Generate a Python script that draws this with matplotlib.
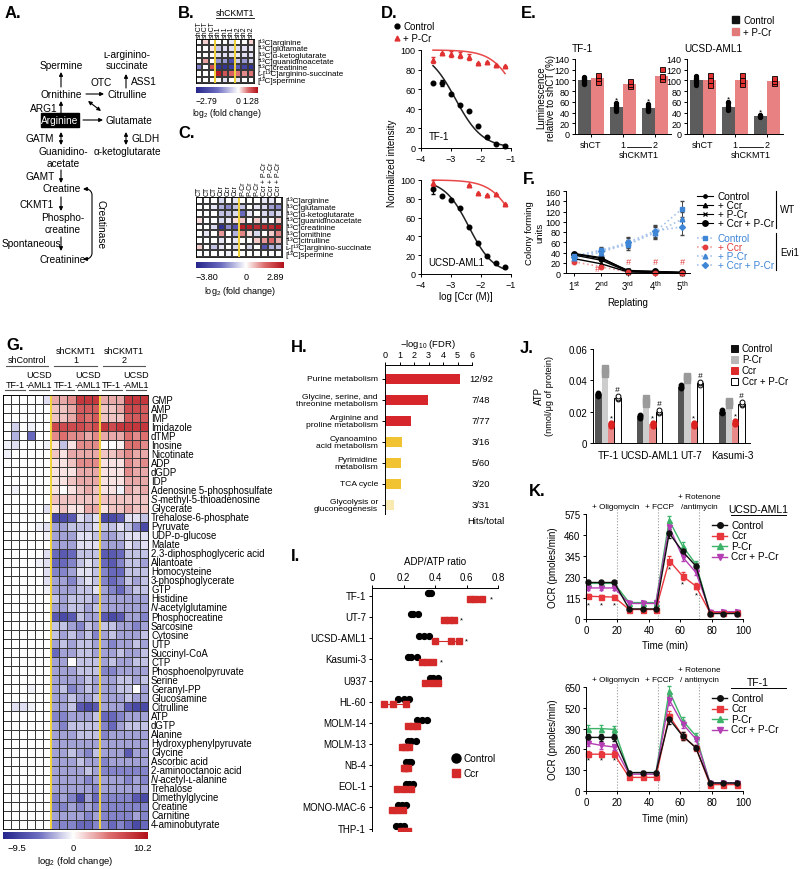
import numpy as np
import matplotlib
matplotlib.use("Agg")
import matplotlib.pyplot as plt
from matplotlib.colors import LinearSegmentedColormap, TwoSlopeNorm

plt.rcParams['font.family'] = ['Liberation Sans', 'DejaVu Sans']
plt.rcParams['mathtext.fontset'] = 'custom'
plt.rcParams['mathtext.rm'] = 'Liberation Sans'
plt.rcParams['mathtext.it'] = 'Liberation Sans:italic'
plt.rcParams['mathtext.bf'] = 'Liberation Sans:bold'
for k, v in {'axes.linewidth': 0.7, 'xtick.major.width': 0.7, 'ytick.major.width': 0.7,
             'xtick.major.size': 2.5, 'ytick.major.size': 2.5, 'xtick.labelsize': 6.5,
             'ytick.labelsize': 6.5, 'xtick.major.pad': 1.5, 'ytick.major.pad': 1.5}.items():
    plt.rcParams[k] = v

# ======================= DATA =======================
# --- B ---
b_cols = ['shCT', 'shCT', 'shCT', 'sh1', 'sh1', 'sh1', 'sh2', 'sh2', 'sh2']
b_rows = ['[¹³C]arginine', '[¹³C]glutamate', '[¹³C]α-ketoglutarate', '[¹³C]guanidinoacetate',
          '[¹³C]creatinine', 'ʟ-[¹³C]arginino-succinate', '[¹³C]spermine']
b_values = [
    [0, 0.2, 0, 0, 0, -0.2, 0, 0, 0.2],
    [0, 0, 0.1, -0.5, -0.3, -0.3, -0.3, -0.3, -0.2],
    [0, 0, 0, -0.3, -0.3, -0.3, -0.2, -0.3, -0.3],
    [0, 0.4, 0, -1.0, -1.0, -2.0, -0.5, -1.0, -0.5],
    [-1.2, 0, 0.8, -2.5, -2.5, -2.3, -1.8, -2.2, -2.5],
    [0, 0, 0, 1.2, 0.8, 0.7, 0.6, 0.5, 0.6],
    [0, 0, 0, 0, -0.3, 0, -0.2, 0, 0],
]
b_range = (-2.79, 1.28)

# --- C ---
c_cols = ['CT', 'CT', 'CT', 'Ccr', 'Ccr', 'Ccr', 'P-Cr', 'P-Cr', 'P-Cr',
          'Ccr + P-Cr', 'Ccr + P-Cr', 'Ccr + P-Cr']
c_rows = ['[¹³C]arginine', '[¹³C]glutamate', '[¹³C]α-ketoglutarate', '[¹³C]guanidinoacetate',
          '[¹³C]creatinine', '[¹³C]ornithine', '[¹³C]citrulline', 'ʟ-[¹³C]arginino-succinate',
          '[¹³C]spermine']
c_values = [
    [0, 0, 0, -0.5, 0, -0.3, 0, 0, 0, -0.3, -0.3, 0],
    [0, 0, -0.3, -1.0, -1.5, -0.8, -0.8, 0, -0.3, -0.5, -1.2, -1.5],
    [0, 0, 0, -0.8, -0.8, -0.5, -2.0, -0.3, 0, -0.5, -0.8, -0.5],
    [0.3, 0, 0, -0.5, -0.3, 0.3, 0.5, 0, 0.5, -0.3, 0, 0.5],
    [0, 0, -0.5, -3.5, -1.5, -2.5, 2.7, 2.7, 2.5, 2.5, 2.5, 2.8],
    [0, -0.3, 0, 1.0, 0, -1.0, 1.2, 0.3, -0.5, 0, 0.5, 1.2],
    [0, 0, 0, -0.3, 0, -0.3, 0, 0, 0.5, 1.0, 1.5, 0.8],
    [0.5, 0, -0.8, -0.3, 0, -0.5, 0, -0.5, 0, -2.5, -1.0, -0.8],
    [0, 0, 0, 0, -0.2, 0, 0, 0, 0, 0, 0, 0],
]
c_range = (-3.80, 2.89)

# --- D ---
d_conc = [-3.6, -3.3, -3.0, -2.7, -2.4, -2.1, -1.8, -1.5, -1.2]
d_tf1_ctrl = [66, 66, 55, 44, 38, 22, 11, 4, 2]
d_tf1_ctrl_err = [0, 3, 0, 0, 0, 0, 0, 0, 0]
d_tf1_pcr = [90, 97, 96, 95, 93, 87, 88, 85, 84]
d_tf1_pcr_err = [3, 0, 3, 3, 3, 0, 0, 0, 0]
d_aml_ctrl = [90, 83, 79, 70, 50, 33, 19, 12, 7]
d_aml_ctrl_err = [5, 0, 0, 0, 0, 0, 0, 0, 0]
d_aml_pcr_conc = [-3.6, -2.4, -2.1, -1.8, -1.5, -1.2]
d_aml_pcr = [97, 95, 86, 84, 85, 75]
d_aml_pcr_err = [3, 0, 0, 0, 0, 0]
# fitted dose-response parameters (top, logIC50, Hill slope)
d_fit_tf1_ctrl = (100, -2.85, 0.96)
d_fit_tf1_pcr = (100, -0.70, 1.0)
d_fit_aml_ctrl = (100, -2.40, 1.06)
d_fit_aml_pcr = (100, -0.75, 1.0)

# --- E ---
e_groups = ['shCT', '1', '2']
e_tf1_ctrl = [100, 50, 48]
e_tf1_pcr = [104, 94, 108]
e_aml_ctrl = [100, 50, 33]
e_aml_pcr = [100, 101, 99]
e_tf1_ctrl_pts = [[93, 96, 98, 100, 101, 103, 105, 107], [43, 46, 48, 50, 52, 54, 57], [43, 45, 47, 49, 51, 53, 56]]
e_tf1_pcr_pts = [[97, 104, 111], [89, 94, 99], [102, 108, 122]]
e_aml_ctrl_pts = [[92, 95, 98, 100, 102, 105, 108], [44, 47, 50, 53, 57, 60], [31, 33, 34, 36]]
e_aml_pcr_pts = [[92, 100, 110], [93, 101, 110], [95, 99, 104]]
e_tf1_star = [None, 63, 62]
e_aml_star = [None, 66, 41]

# --- F ---
f_replating = [1, 2, 3, 4, 5]
f_labels = ['1$^{\\mathrm{st}}$', '2$^{\\mathrm{nd}}$', '3$^{\\mathrm{rd}}$', '4$^{\\mathrm{th}}$', '5$^{\\mathrm{th}}$']
f_wt_ctrl = [35, 25, 3, 2, 1]
f_wt_ccr = [28, 18, 2, 1, 0]
f_wt_pcr = [37, 28, 5, 3, 1]
f_wt_ccr_pcr = [38, 30, 4, 3, 1]
f_evi_ctrl = [33, 45, 55, 80, 125]
f_evi_ccr = [22, 12, 2, 0, 0]
f_evi_pcr = [30, 40, 58, 78, 105]
f_evi_ccr_pcr = [32, 43, 60, 82, 90]
f_evi_err = [3, 5, 10, 12, 15]
f_hash_pos = [(1.85, 8), (3, 22), (4, 22), (5, 22)]

# --- G ---
g_rows = ['GMP', 'AMP', 'IMP', 'Imidazole', 'dTMP', 'Inosine', 'Nicotinate', 'ADP', 'dGDP', 'IDP',
          'Adenosine 5-phosphosulfate', 'S-methyl-5-thioadenosine', 'Glycerate',
          'Trehalose-6-phosphate', 'Pyruvate', 'UDP-ᴅ-glucose', 'Malate',
          '2,3-diphosphoglyceric acid', 'Allantoate', 'Homocysteine', '3-phosphoglycerate', 'GTP',
          'Histidine', 'N-acetylglutamine', 'Phosphocreatine', 'Sarcosine', 'Cytosine', 'UTP',
          'Succinyl-CoA', 'CTP', 'Phosphoenolpyruvate', 'Serine', 'Geranyl-PP', 'Glucosamine',
          'Citrulline', 'ATP', 'dGTP', 'Alanine', 'Hydroxyphenylpyruvate', 'Glycine',
          'Ascorbic acid', '2-aminooctanoic acid', 'N-acetyl-ʟ-alanine', 'Trehalose',
          'Dimethylglycine', 'Creatine', 'Carnitine', '4-aminobutyrate']
g_italic_first = ['S-methyl-5-thioadenosine', 'N-acetylglutamine', 'N-acetyl-ʟ-alanine']
g_values = [
    [0, 0, 0, 0, 0, -1, 3, 3, 4, 8, 8, 8, 3, 3, 3, 8, 8, 8],
    [0, 0, 0, 0, 0, 0, 2, 2, 3, 6, 6, 6, 2, 2, 3, 7, 7, 6],
    [0, 0, 0, 0, 0, 0, 2, 2, 3, 6, 5, 6, 2, 2, 2, 6, 6, 6],
    [0, -1.5, 0, -0.5, 0, 0, 7, 7, 7, 7, 6, 7, 8, 7, 8, 8, 8, 8],
    [0, -2.5, 0, -5, 0, 0, 4, 5, 4, 4, 3, 4, 3, 3, 3, 5, 4, 5],
    [-0.5, -1, 0, 0, 0, -0.5, 1, -2, 1, 4, 4, 4, 0, 0, 0.5, 5, 5, 4],
    [-0.5, 0, 0, 0, 0, 0, 2, 1, 3, 3, 3, 3, 2, 2, 3, 4, 3, 3],
    [0, 0, 0, 0, 0, 0, 1, 1, 2, 4, 4, 4, 1, 1, 1, 4, 3, 4],
    [0, 0, 0, 0, 0, 0, 1, 1, 1, 3, 3, 3, 1, 1, 1, 4, 3, 3],
    [0, 0, 0, 0, 0, 0, 1, 1, 2, 3, 3, 3, 1, 1, 1, 3, 3, 3],
    [0, -0.5, 0, 0, 0, 0, 1, 0, 1, 2, 3, 2, 1, 1, -0.5, 3, 2, 3],
    [0, 0, 0, 0, 0, 0, 2, 2, 2, 2, 2, 2, 2, 2, 2, 2, 2, 2],
    [0, 0, 0, 0, 0, -1, 1, 2, 1, 1, 3, 3, 1, 2, 2, 3, 2, 2],
    [0, 0, 0, 0, 0, 0, -7, -7, -6, -1, -2, -1, -7, -7, -6, -1, -1, -2],
    [0, 0, 0, 0, -0.5, -1, -3, -3, -2, -2, -2, -1, -2, -2, -1, -2, -4, -7],
    [0, 0, 0, 0, 0, -0.5, -3, -3, -3, -1, -1, -2, -3, -3, -2, -1, -1, -1],
    [0, 0, 0, 0, 0, 0, -3, -3, -3, -1, -1, -1, -3, -3, -3, -1, -2, -1],
    [0, 0, 0, 0, 0, -1, -5, -6, -5, -2, -2, -2, -6, -6, -5, -2, -2, -2],
    [0, 0, 0, 0, -0.5, -1, -5, -5, -4, -2, -1, -2, -5, -6, -4, -2, -2, -3],
    [0, 0, 0, 0, 0, -1, -4, -4, -3, -1, -1, -2, -4, -5, -5, -2, -2, -2],
    [0, 0, 0, 0, 0, -1, -3, -3, -4, -2, -1, -2, -4, -5, -4, -2, -3, -2],
    [0, 0, 0, 0, 0, -0.5, -3, -3, -3, -2, -2, -1, -3, -4, -5, -3, -2, -2],
    [0, 0, 0, 0, 0, 0, -2, -3, -2, -2, -2, -3, -3, -3, -3, -3, -3, -3],
    [0, 0, 0, 0, 0, 0, -3, -3, -2, -2, -3, -2, -3, -3, -3, -3, -3, -3],
    [0, 0, 0, 0, 0, 0, -6, -7, -6, -2, -3, -3, -6, -7, -6, -3, -3, -4],
    [0, 0, 0, 0, 0, 0, -2, -2, -3, -4, -2, -3, -2, -2, -3, -3, -4, -3],
    [0, 0, 0, 0, 0, 0, -2, -3, -2, -3, -2, -4, -3, -2, -3, -3, -3, -2],
    [0, 0, 0, 0, 0, 0, -3, -2, -3, -2, -2, -3, -3, -4, -3, -3, -2, -3],
    [0, 0, 0, 0, 0, 0, -5, -3, -3, -2, -2, -3, -3, -3, -2, -3, -3, -2],
    [0, 0, 0, 0, 0, 0, -3, -3, 0, -2, -2, -2, -3, -2, -3, -3, -2, -2],
    [0, 0, 0, 0, 0, 0, -3, -3, -3, -2, -2, -2, -4, -4, -3, -3, -3, -3],
    [0, 0, 0, 0, 0, 0, -3, -3, -3, -3, -2, -3, -3, -3, -2, -2, -3, -2],
    [0, 0, 0, -0.5, 0, 0, -3, -2, -4, -3, -2, -3, -3, -3, -2, -2, 0, -3],
    [0, 0, 0, 0, 0, 0, -3, -3, -2, -3, -3, -2, -3, -3, -3, -2, -3, -3],
    [0, -1, -1, -0.5, 0, 0, -3, -3, -2, -6, -7, -6, -3, -3, -3, -6, -7, -7],
    [0, 0, 0, 0, 0, 0, -4, -4, -3, -3, -3, -2, -5, -5, -4, -3, -3, -3],
    [0, 0, 0, 0, 0, 0, -3, -4, -2, -2, -2, -2, -4, -5, -3, -2, -2, -2],
    [0, 0, 0, 0, 0, 0, -3, -3, -3, -2, -2, -2, -4, -3, -3, -3, -3, -3],
    [0, 0, 0, 0, 0, 0, -3, -3, -3, -3, -3, -3, -3, -3, -3, -3, -3, -3],
    [0, 0, 0, 0, 0, 0, -3, -3, -2, -3, -4, -2, -3, -3, -3, -6, -3, -3],
    [0, 0, 0, 0, 0, 0, -3, -3, -3, -2, -3, -3, -4, -3, -3, -3, -3, -3],
    [0, 0, 0, 0, 0, 0, -3, -3, -3, -3, -2, -3, -4, -4, -4, -4, -4, -4],
    [0, 0, 0, 0, 0, 0, -3, -3, -3, -3, -4, -3, -3, -3, -3, -4, -3, -4],
    [0, 0, 0, 0, 0, 0, -3, -3, -3, -3, -3, -4, -3, -3, -3, -3, -3, -3],
    [0, 0, 0, 0, 0, 0, -4, -3, -4, -7, -3, -5, -4, -4, -4, -4, -6, -7],
    [0, 0, 0, 0, 0, 0, -4, -4, -3, -4, -3, -4, -4, -4, -4, -4, -4, -4],
    [0, 0, 0, 0, 0, 0, -3, -3, -3, -3, -4, -3, -4, -4, -4, -4, -3, -4],
    [0, 0, 0, 0, 0, 0, -4, -4, -4, -5, -5, -4, -4, -5, -4, -5, -7, -5],
]
g_range = (-9.5, 10.2)
g_groups = ['shControl', 'shCKMT1\n1', 'shCKMT1\n2']

# --- H ---
h_paths = ['Purine metabolism', 'Glycine, serine, and\nthreonine metabolism',
           'Arginine and\nproline metabolism', 'Cyanoamino\nacid metabolism',
           'Pyrimidine\nmetabolism', 'TCA cycle', 'Glycolysis or\ngluconeogenesis']
h_fdr = [5.2, 2.95, 1.8, 1.2, 1.1, 1.1, 0.6]
h_hits = ['12/92', '7/48', '7/77', '3/16', '5/60', '3/20', '3/31']
h_colors = ['#d7262b', '#d7262b', '#d7262b', '#f1c232', '#f1c232', '#f1c232', '#f8eab0']

# --- I ---
i_lines = ['TF-1', 'UT-7', 'UCSD-AML1', 'Kasumi-3', 'U937', 'HL-60', 'MOLM-14', 'MOLM-13',
           'NB-4', 'EOL-1', 'MONO-MAC-6', 'THP-1']
i_ctrl = [[0.355, 0.365, 0.372], [0.245, 0.262, 0.29], [0.30, 0.33, 0.36], [0.23, 0.25, 0.285],
          [0.37, 0.39, 0.42], [0.165, 0.20, 0.235], [0.285, 0.32, 0.35], [0.226, 0.25, 0.28],
          [0.215, 0.232, 0.245], [0.215, 0.235, 0.26], [0.165, 0.19, 0.215], [0.152, 0.175, 0.20]]
i_ccr = [[0.62, 0.655, 0.70], [0.455, 0.49, 0.52], [0.40, 0.50, 0.555], [0.32, 0.35, 0.39],
         [0.335, 0.38, 0.42], [0.078, 0.133, 0.216], [0.23, 0.26, 0.285], [0.19, 0.21, 0.237],
         [0.20, 0.21, 0.226], [0.16, 0.20, 0.245], [0.13, 0.16, 0.197], [0.184, 0.20, 0.23]]
i_star = [0.76, 0.57, 0.60, 0.44, None, None, None, None, None, None, None, None]

# --- J ---
j_lines = ['TF-1', 'UCSD-AML1', 'UT-7', 'Kasumi-3']
j_ctrl = [0.031, 0.017, 0.036, 0.020]
j_pcr = [0.049, 0.030, 0.044, 0.028]
j_ccr = [0.012, 0.012, 0.012, 0.013]
j_ccr_pcr = [0.029, 0.020, 0.038, 0.025]
j_ctrl_pts = [[0.030, 0.031, 0.032], [0.016, 0.017, 0.018], [0.035, 0.036, 0.037], [0.019, 0.020, 0.021]]
j_pcr_pts = [[0.044, 0.046, 0.048], [0.025, 0.027, 0.029], [0.040, 0.042, 0.043], [0.024, 0.026, 0.027]]
j_ccr_pts = [[0.011, 0.012, 0.013], [0.011, 0.012, 0.013], [0.011, 0.012, 0.013], [0.012, 0.013, 0.014]]
j_ccr_pcr_pts = [[0.028, 0.029, 0.030], [0.019, 0.020, 0.021], [0.037, 0.038, 0.039], [0.024, 0.025, 0.026]]

# --- K ---
k_time = [1.5, 9.7, 18, 27.5, 36, 44.5, 53, 61.5, 70, 79, 87.5, 96]
k_series = ['Control', 'Ccr', 'P-Cr', 'Ccr + P-Cr']
k_aml = {'Control': [200, 200, 200, 55, 55, 55, 470, 370, 290, 30, 30, 30],
         'Ccr': [125, 122, 120, 52, 52, 52, 320, 235, 180, 35, 35, 35],
         'P-Cr': [195, 195, 195, 90, 90, 90, 540, 400, 300, 35, 40, 40],
         'Ccr + P-Cr': [170, 170, 170, 85, 85, 85, 505, 340, 255, 40, 40, 40]}
k_aml_err = [10, 10, 10, 6, 6, 6, 25, 20, 15, 6, 6, 6]
k_tf1 = {'Control': [335, 335, 335, 115, 115, 115, 450, 345, 270, 50, 50, 50],
         'Ccr': [230, 230, 230, 85, 85, 85, 470, 345, 270, 40, 40, 40],
         'P-Cr': [390, 390, 385, 115, 115, 115, 625, 440, 345, 50, 50, 50],
         'Ccr + P-Cr': [300, 285, 275, 105, 105, 105, 570, 420, 325, 50, 50, 50]}
k_tf1_err = [20, 20, 20, 8, 8, 8, 30, 25, 15, 6, 6, 6]
k_injections = [20, 46, 72]

# ======================= FIGURE =======================
W, H = 800, 870
fig = plt.figure(figsize=(8, 8.7), dpi=100)
fig.patch.set_facecolor('white')

CMAP = LinearSegmentedColormap.from_list('bwr_ref', [(0, '#26268c'), (0.25, '#6c6cc0'), (0.5, '#ffffff'),
                                                     (0.75, '#dc6c6c'), (1, '#b3121b')])


def ax_px(l, t, r, b):
    return fig.add_axes([l / W, 1 - b / H, (r - l) / W, (b - t) / H])


ov = fig.add_axes([0, 0, 1, 1], zorder=20)
ov.set_xlim(0, W)
ov.set_ylim(H, 0)
ov.axis('off')


def T(x, y, s, size=7, ha='center', va='center', **kw):
    ov.text(x, y, s, fontsize=size, ha=ha, va=va, **kw)


def arrow(x0, y0, x1, y1, style='-|>'):
    ov.annotate('', xy=(x1, y1), xytext=(x0, y0),
                arrowprops=dict(arrowstyle=style, color='k', lw=0.8, mutation_scale=5.5,
                                shrinkA=0, shrinkB=0))


def L(xs, ys, **kw):
    kw.setdefault('color', 'k')
    kw.setdefault('lw', 0.8)
    ov.plot(xs, ys, **kw)


def letter(x, y, s):
    T(x, y, s, size=12, ha='left', weight='bold')


def clean(ax):
    ax.spines['top'].set_visible(False)
    ax.spines['right'].set_visible(False)


def heat(ax, vals, norm, vlines, lw=0.35):
    v = np.array(vals, dtype=float)
    nr, nc = v.shape
    ax.pcolormesh(np.arange(nc + 1), np.arange(nr + 1), v, cmap=CMAP, norm=norm,
                  edgecolors='#3a3a3a', linewidth=lw)
    ax.set_xlim(0, nc)
    ax.set_ylim(nr, 0)
    for x in vlines:
        ax.axvline(x, color='#f3d53a', lw=1.4)
    ax.set_xticks([])
    ax.set_yticks([])
    for s in ax.spines.values():
        s.set_linewidth(0.6)


def cbar(l, t, r, b, rng, norm, labels_y, lab_y, size=6.5, inset=(0, 0)):
    ax = ax_px(l, t, r, b)
    g = np.linspace(rng[0], rng[1], 256)[None, :]
    ax.imshow(g, aspect='auto', cmap=CMAP, norm=norm, extent=[rng[0], rng[1], 0, 1])
    ax.axis('off')
    fmt = lambda v: ('%.2f' % v if abs(v) < 5 else '%.1f' % v).replace('-', '−')
    T(l + inset[0], labels_y, fmt(rng[0]), size=size, ha='left')
    x0 = l + (0 - rng[0]) / (rng[1] - rng[0]) * (r - l)
    T(x0, labels_y, '0', size=size)
    T(r + inset[1], labels_y, fmt(rng[1]), size=size, ha='right')
    T((l + r) / 2, lab_y, 'log$_2$ (fold change)', size=size)


# ---------------- A ----------------
letter(5, 14, 'A.')
fa = 7.3
T(61, 66, 'Spermine', fa)
T(127, 55, 'ʟ-arginino-', fa)
T(127, 66, 'succinate', fa)
arrow(61, 88, 61, 73)
T(101, 83, 'OTC', fa)
arrow(126, 89, 126, 75)
T(131, 82, 'ASS1', fa, ha='left')
T(61, 95, 'Ornithine', fa)
arrow(86, 95, 104, 95)
T(107, 95, 'Citrulline', fa, ha='left')
T(44, 109, 'ARG1', fa)
arrow(61, 115, 61, 102)
arrow(88, 102, 101, 112, style='<|-|>')
ov.add_patch(plt.Rectangle((41, 114), 38, 14, color='k'))
T(60, 121, 'Arginine', fa, color='white')
arrow(83, 121, 103, 121)
T(106, 121, 'Glutamate', fa, ha='left')
T(40, 139, 'GATM', fa)
arrow(61, 133, 61, 146, style='<|-|>')
arrow(126, 133, 126, 146, style='<|-|>')
T(131, 139, 'GLDH', fa, ha='left')
T(63, 152, 'Guanidino-', fa)
T(63, 164, 'acetate', fa)
T(127, 152, 'α-ketoglutarate', fa)
T(40, 177, 'GAMT', fa)
arrow(61, 171, 61, 184)
T(62, 189, 'Creatine', fa)
T(37, 205, 'CKMT1', fa)
arrow(61, 198, 61, 212)
T(63, 218, 'Phospho-', fa)
T(63, 230, 'creatine', fa)
T(2, 244, 'Spontaneous', fa, ha='left')
arrow(61, 238, 61, 252)
T(63, 260, 'Creatinine', fa)
t = np.linspace(0, np.pi / 2, 20)
bx = np.concatenate([86 + 6 * np.sin(t), 86 + 6 * np.cos(t)])
by = np.concatenate([190 - 6 * np.cos(t) + 6, 254 + 6 * np.sin(t)])
L(bx, by)
arrow(88, 190, 83, 190)
arrow(88, 260, 83, 260)
T(101, 225, 'Creatinase', fa, rotation=-90)

# ---------------- B ----------------
letter(178, 14, 'B.')
bnorm = TwoSlopeNorm(vmin=b_range[0], vcenter=0, vmax=b_range[1])
bl, bt, br, bb = 196, 40, 254, 84
axB = ax_px(bl, bt, br, bb)
heat(axB, b_values, bnorm, [3, 6])
cw = (br - bl) / len(b_cols)
for j, lab in enumerate(b_cols):
    T(bl + (j + 0.5) * cw, bt - 1.5, lab, 5, va='bottom', rotation=90)
T((bl + 3 * cw + br) / 2, 14, 'shCKMT1', 6.2)
L([bl + 3 * cw + 1, br], [19, 19], lw=0.6)
rh = (bb - bt) / len(b_rows)
for i, lab in enumerate(b_rows):
    T(br + 3, bt + (i + 0.5) * rh, lab, 5.8, ha='left')
cbar(bl, 88, 258, 94, b_range, bnorm, 102, 114, size=6.2, inset=(0, 1))

# ---------------- C ----------------
letter(178, 134, 'C.')
cnorm = TwoSlopeNorm(vmin=c_range[0], vcenter=0, vmax=c_range[1])
cl, ct, cr, cb = 196, 198, 282, 258
axC = ax_px(cl, ct, cr, cb)
heat(axC, c_values, cnorm, [6])
cw = (cr - cl) / len(c_cols)
for j, lab in enumerate(c_cols):
    T(cl + (j + 0.5) * cw, ct - 1.5, lab, 5, va='bottom', rotation=90)
rh = (cb - ct) / len(c_rows)
for i, lab in enumerate(c_rows):
    T(cr + 3, ct + (i + 0.5) * rh, lab, 5.8, ha='left')
cbar(cl, 263, 284, 269, c_range, cnorm, 278, 292)


# ---------------- D ----------------
def hill(x, top, ic50, h):
    return top / (1 + 10 ** ((np.asarray(x) - ic50) * h))


letter(381, 14, 'D.')
ov.plot([397], [27], 'o', color='k', ms=3.5)
T(403, 27, 'Control', 7, ha='left')
ov.plot([397], [39], '^', color='#e03030', ms=3.5)
T(403, 39, '+ P-Cr', 7, ha='left')
d_panels = [((421, 51, 511, 149), d_conc, d_tf1_ctrl, d_tf1_ctrl_err, d_conc, d_tf1_pcr,
             d_tf1_pcr_err, d_fit_tf1_ctrl, d_fit_tf1_pcr, 'TF-1'),
            ((421, 181, 511, 275), d_conc, d_aml_ctrl, d_aml_ctrl_err, d_aml_pcr_conc, d_aml_pcr,
             d_aml_pcr_err, d_fit_aml_ctrl, d_fit_aml_pcr, 'UCSD-AML1')]
for box, cx, cy, ce, px, py, pe, fc, fp, name in d_panels:
    ax = ax_px(*box)
    xs = np.linspace(-3.6, -1.2, 120)
    ax.plot(xs, hill(xs, *fc), color='#222222', lw=1.1)
    ax.plot(xs, hill(xs, *fp), color='#e84848', lw=1.1, clip_on=False)
    ax.errorbar(cx, cy, yerr=ce, fmt='o', ms=3.3, color='k', capsize=1.5, elinewidth=0.8, clip_on=False)
    ax.errorbar(px, py, yerr=pe, fmt='^', ms=3.3, color='#e03030', capsize=1.5, elinewidth=0.8,
                clip_on=False)
    ax.set_xlim(-4, -1)
    ax.set_ylim(0, 100)
    ax.set_xticks([-4, -3, -2, -1])
    ax.set_yticks(range(0, 101, 20))
    clean(ax)
    ax.text(-3.75, 7, name, fontsize=7, ha='left', va='bottom')
T(392, 163, 'Normalized intensity', 7, rotation=90)
T(466, 297, 'log [Ccr (M)]', 7)

# ---------------- E ----------------
letter(521, 14, 'E.')
ov.add_patch(plt.Rectangle((732, 17), 7, 7, color='#111111'))
T(743, 21, 'Control', 7, ha='left')
ov.add_patch(plt.Rectangle((732, 29), 7, 7, color='#e27a7a'))
T(743, 33, '+ P-Cr', 7, ha='left')
e_panels = [((575, 60, 671, 135), e_tf1_ctrl, e_tf1_pcr, e_tf1_ctrl_pts, e_tf1_pcr_pts, e_tf1_star, 'TF-1', 572),
            ((687, 60, 783, 135), e_aml_ctrl, e_aml_pcr, e_aml_ctrl_pts, e_aml_pcr_pts, e_aml_star, 'UCSD-AML1', 684)]
for box, ctrl, pcr, cpts, ppts, stars, name, tx in e_panels:
    ax = ax_px(*box)
    x = np.arange(3)
    ax.bar(x - 0.21, ctrl, 0.4, color='#5c5c5c')
    ax.bar(x + 0.21, pcr, 0.4, color='#e88282')
    for i in range(3):
        ax.plot(np.full(len(cpts[i]), i - 0.21), cpts[i], 'o', color='k', ms=2.8)
        ax.plot(np.full(len(ppts[i]), i + 0.21), ppts[i], 's', mfc='#e03030', mec='k', mew=0.6, ms=3.6)
        if stars[i] is not None:
            ax.text(i - 0.21, stars[i], '*', fontsize=6, ha='center', va='center')
    ax.set_ylim(0, 140)
    ax.set_yticks(range(0, 141, 20))
    ax.set_xlim(-0.5, 2.5)
    ax.set_xticks(x)
    ax.set_xticklabels([])
    clean(ax)
    T(tx, 49, name, 7.2, ha='left')
    l = box[0]
    gx = [l + (i + 0.5) * 32 for i in range(3)]
    T(gx[0], 146, e_groups[0], 6.5)
    T(gx[1], 145, e_groups[1], 6.5)
    T(gx[2], 145, e_groups[2], 6.5)
    L([gx[1] + 4, gx[2] - 4], [148, 148], lw=0.6)
    T((gx[1] + gx[2]) / 2, 155, 'shCKMT1', 6.5)
T(541, 98, 'Luminescence', 7, rotation=90)
T(551, 98, 'relative to shCT (%)', 7, rotation=90)

# ---------------- F ----------------
letter(523, 179, 'F.')
axF = ax_px(566, 192, 690, 274)
BLUE = '#3f86d6'
LBLUE = '#a9c4ea'
RED = '#e23c3c'
wt_specs = [(f_wt_ctrl, 'o', 2.5), (f_wt_ccr, '^', 3.2), (f_wt_pcr, 'x', 3.2), (f_wt_ccr_pcr, 'o', 4)]
evi_specs = [(f_evi_ctrl, 's', 3, BLUE), (f_evi_ccr, 'o', 3.2, RED), (f_evi_pcr, '^', 3.4, BLUE),
             (f_evi_ccr_pcr, 'D', 3, BLUE)]
for ys, m, s, c in evi_specs:
    lc = '#f0a0a0' if c == RED else LBLUE
    axF.plot(f_replating, ys, ':', color=lc, lw=1.2)
    axF.errorbar(f_replating, ys, yerr=f_evi_err if c != RED else None, fmt=m, ms=s, color=c,
                 ecolor='#444444', elinewidth=0.7, capsize=1.5, clip_on=False)
for ys, m, s in wt_specs:
    axF.plot(f_replating, ys, '-', marker=m, color='k', lw=1.0, ms=s, mew=0.9, clip_on=False)
for xh, yh in f_hash_pos:
    axF.text(xh, yh, '#', color=RED, fontsize=6.5, ha='center', va='center', style='italic')
axF.set_xlim(0.7, 5.3)
axF.set_ylim(0, 160)
axF.set_yticks(range(0, 161, 20))
axF.set_xticks(f_replating)
axF.set_xticklabels(f_labels, fontsize=7)
clean(axF)
T(628, 303, 'Replating', 7)
T(530, 233, 'Colony forming', 6.8, rotation=90)
T(540, 233, 'units', 6.8, rotation=90)
leg_names = ['Control', '+ Ccr', '+ P-Cr', '+ Ccr + P-Cr']
for k, ((ys, m, s), yy) in enumerate(zip(wt_specs, [197, 206, 215, 224])):
    L([697, 713], [yy, yy])
    ov.plot([705], [yy], marker=m, color='k', ms=s, mew=0.9)
    T(718, yy, leg_names[k], 7.2, ha='left')
for k, ((ys, m, s, c), yy) in enumerate(zip(evi_specs, [239, 248, 257, 266])):
    L([697, 713], [yy, yy], ls=':', color=('#f0a0a0' if c == RED else LBLUE), lw=1.2)
    ov.plot([705], [yy], marker=m, color=c, ms=s)
    T(718, yy, leg_names[k], 7.2, ha='left', color=c)
L([776, 776], [192, 229], lw=0.8)
T(780, 210, 'WT', 7, ha='left')
L([776, 776], [234, 271], lw=0.8)
T(780, 253, 'Evi1', 7, ha='left')

# ---------------- G ----------------
letter(6, 346, 'G.')
gnorm = TwoSlopeNorm(vmin=g_range[0], vcenter=0, vmax=g_range[1])
gl, gt, gr, gb = 3, 396, 148, 830
axG = ax_px(gl, gt, gr, gb)
heat(axG, g_values, gnorm, [6, 12], lw=0.4)
gcw = (gr - gl) / 18
for gi, name in enumerate(g_groups):
    x0 = gl + gi * 6 * gcw
    xc = x0 + 3 * gcw
    if '\n' in name:
        a, b = name.split('\n')
        T(xc, 352, a, 6.5)
        T(xc, 361, b, 6.5)
    else:
        T(xc, 361, name, 6.5)
    L([x0 + 3, x0 + 6 * gcw - 3], [367, 367], lw=0.8, color='#555555')
    T(x0 + 4.5 * gcw, 376, 'UCSD', 6.5)
    T(x0 + 1.5 * gcw, 386, 'TF-1', 6.5)
    T(x0 + 4.5 * gcw, 386, '-AML1', 6.5)
    L([x0 + 2, x0 + 3 * gcw - 2], [391, 391], lw=0.8, color='#555555')
    L([x0 + 3 * gcw + 2, x0 + 6 * gcw - 2], [391, 391], lw=0.8, color='#555555')
grh = (gb - gt) / len(g_rows)
for i, lab in enumerate(g_rows):
    yy = gt + (i + 0.5) * grh
    if lab in g_italic_first:
        T(gr + 3, yy, lab[0], 6.9, ha='left', style='italic')
        T(gr + 3 + (6.4 if lab[0] == 'S' else 6.8), yy, lab[1:], 6.9, ha='left')
    else:
        T(gr + 3, yy, lab, 6.9, ha='left')
cbar(gl, 833, gr, 840, g_range, gnorm, 849, 862, size=6.8, inset=(4, 4))

# ---------------- H ----------------
letter(291, 348, 'H.')
h_top, h_row0, h_dy = 366, 380, 21
axH = ax_px(385, h_top, 472, 515)
yH = np.arange(len(h_paths))
axH.barh(yH, h_fdr, height=0.5, color=h_colors)
axH.set_xlim(0, 6)
axH.set_ylim(6 + (515 - h_row0 - 6 * h_dy) / h_dy, -(h_row0 - h_top) / h_dy)
axH.xaxis.tick_top()
axH.set_xticks(range(7))
axH.set_yticks(yH)
axH.set_yticklabels([])
axH.spines['right'].set_visible(False)
axH.spines['bottom'].set_visible(False)
T(428, 345, '$-$log$_{10}$ (FDR)', 6.8)
for i, (p, hts) in enumerate(zip(h_paths, h_hits)):
    yy = h_row0 + h_dy * i
    T(378, yy, p, 6.1, ha='right', linespacing=1.0)
    T(481, yy, hts, 6.8)
T(486, 522, 'Hits/total', 6.8)

# ---------------- I ----------------
letter(291, 557, 'I.')
i_top, i_row0, i_dy = 589, 597, 21.14
axI = ax_px(372, i_top, 498, 832)
for i in range(len(i_lines)):
    c = i_ctrl[i]
    r = i_ccr[i]
    axI.plot([min(c), max(c)], [i - 0.13] * 2, '-', color='k', lw=0.8)
    axI.plot(c, [i - 0.13] * 3, 'o', color='k', ms=4.2)
    axI.plot([min(r), max(r)], [i + 0.13] * 2, '-', color='#d42a2a', lw=0.8)
    axI.plot(r, [i + 0.13] * 3, 's', color='#d42a2a', ms=3.8)
    if i_star[i] is not None:
        axI.text(i_star[i], i + 0.13, '*', fontsize=5.5, ha='center', va='center')
axI.set_xlim(0, 0.8)
axI.set_ylim(11 + (832 - i_row0 - 11 * i_dy) / i_dy, -(i_row0 - i_top) / i_dy)
axI.xaxis.tick_top()
axI.set_xticks([0, 0.2, 0.4, 0.6, 0.8])
axI.set_xticklabels(['0', '0.2', '0.4', '0.6', '0.8'], fontsize=7)
axI.set_yticks(range(len(i_lines)))
axI.set_yticklabels([])
axI.spines['right'].set_visible(False)
axI.spines['bottom'].set_visible(False)
T(435, 562, 'ADP/ATP ratio', 7)
for i, lab in enumerate(i_lines):
    T(366, i_row0 + i_dy * i, lab, 7, ha='right')
ov.plot([456], [759], 'o', color='k', ms=6.5)
T(463, 759, 'Control', 7.2, ha='left')
ov.plot([456], [774], 's', color='#d42a2a', ms=6)
T(463, 774, 'Ccr', 7.2, ha='left')

# ---------------- J ----------------
letter(520, 349, 'J.')
axJ = ax_px(593, 350, 750, 444)
xj = np.arange(4)
w = 0.155
axJ.bar(xj - 1.5 * w, j_ctrl, w, color='#555555')
axJ.bar(xj - 0.5 * w, j_pcr, w, color='#cdcdcd')
axJ.bar(xj + 0.5 * w, j_ccr, w, color='#e98a8a')
axJ.bar(xj + 1.5 * w, j_ccr_pcr, w, color='white', edgecolor='k', lw=0.7)
for i in range(4):
    axJ.plot([i - 1.5 * w] * 3, j_ctrl_pts[i], 'o', color='k', ms=3.2)
    axJ.plot([i - 0.5 * w] * 3, j_pcr_pts[i], 's', color='#9a9a9a', ms=4.3)
    axJ.plot([i + 0.5 * w] * 3, j_ccr_pts[i], 'o', color='#dd2222', ms=3.5)
    axJ.plot([i + 1.5 * w] * 3, j_ccr_pcr_pts[i], 'o', mfc='white', mec='k', mew=0.7, ms=3.5)
    axJ.text(i + 0.5 * w, j_ccr[i] + 0.004, '*', fontsize=5.5, ha='center', va='center')
    axJ.text(i + 1.5 * w, j_ccr_pcr[i] + 0.005, '#', fontsize=6, ha='center', va='center', style='italic')
axJ.set_xlim(-0.363, 3.436)
axJ.set_ylim(0, 0.06)
axJ.set_yticks([0, 0.02, 0.04, 0.06])
axJ.set_yticklabels(['0', '0.02', '0.04', '0.06'], fontsize=7)
axJ.set_xticks(xj)
axJ.set_xticklabels(j_lines, fontsize=7.2)
axJ.tick_params(axis='x', length=0, pad=5)
clean(axJ)
T(539, 396, 'ATP', 7, rotation=90)
T(550, 396, '(nmol/μg of protein)', 6.6, rotation=90)
jleg = [('Control', '#111111', None), ('P-Cr', '#b8b8b8', None), ('Ccr', '#dd2a2a', None),
        ('Ccr + P-Cr', 'white', 'k')]
for k, (nm, fc, ec) in enumerate(jleg):
    yy = 349 + 11 * k
    ov.add_patch(plt.Rectangle((731, yy - 3.5), 7, 7, facecolor=fc, edgecolor=ec or fc, lw=0.7))
    T(742, yy, nm, 7, ha='left')

# ---------------- K ----------------
letter(529, 492, 'K.')
KCOL = {'Control': '#111111', 'Ccr': '#e8383d', 'P-Cr': '#3db36a', 'Ccr + P-Cr': '#b43fb4'}
KMK = {'Control': 'o', 'Ccr': 's', 'P-Cr': '^', 'Ccr + P-Cr': 'v'}
k_panels = [((586, 515, 743, 620), k_aml, k_aml_err, 575, 115, 'UCSD-AML1', 0, 646, '/antimycin',
             [(1.5, 75), (9.7, 75), (18, 75), (53, 275), (61.5, 195), (70, 132)]),
            ((586, 688, 743, 792), k_tf1, k_tf1_err, 650, 130, 'TF-1', 173, 819, '/ antimycin',
             [(1.5, 195), (9.7, 195), (18, 195)])]
for box, data, err, ymax, step, name, dy, xlab_y, anti, stars in k_panels:
    ax = ax_px(*box)
    for sname in ['P-Cr', 'Ccr + P-Cr', 'Ccr', 'Control']:
        ax.errorbar(k_time, data[sname], yerr=err, color=KCOL[sname], marker=KMK[sname], ms=3.6,
                    lw=1.0, capsize=1.5, elinewidth=0.7, clip_on=False)
    for xs_, ys_ in stars:
        ax.text(xs_, ys_, '*', fontsize=5.5, ha='center', va='center')
    for tinj in k_injections:
        ax.axvline(tinj, ymin=0, ymax=1.06, color='#9a9a9a', ls=':', lw=0.8, clip_on=False)
    ax.set_xlim(0, 100)
    ax.set_ylim(0, ymax)
    ax.set_yticks(np.arange(0, ymax + 1, step))
    ax.set_xticks(range(0, 101, 20))
    ax.tick_params(labelsize=7)
    clean(ax)
    ymid = (box[1] + box[3]) / 2
    T(553, ymid, 'OCR (pmoles/min)', 7, rotation=90)
    T(665, xlab_y, 'Time (min)', 7)
    px = lambda tm: 586 + tm * 1.57
    T(px(20) - 2, 508 + dy, '+ Oligomycin', 5.9)
    T(px(46) + 1, 508 + dy, '+ FCCP', 5.9)
    T(px(72), 498 + dy, '+ Rotenone', 5.9)
    T(px(72), 508 + dy, anti, 5.9)
    T(758, 510 + dy, name, 7.5)
    L([731, 786], [516 + dy, 516 + dy], lw=0.7)
    for k, sname in enumerate(k_series):
        yy = 526 + dy + 10.5 * k
        L([712, 727], [yy, yy], color=KCOL[sname], lw=1.0)
        ov.plot([719.5], [yy], marker=KMK[sname], color=KCOL[sname], ms=4)
        T(731, yy, sname, 7.2, ha='left')

fig.savefig('out.png', dpi=100, facecolor='white')
